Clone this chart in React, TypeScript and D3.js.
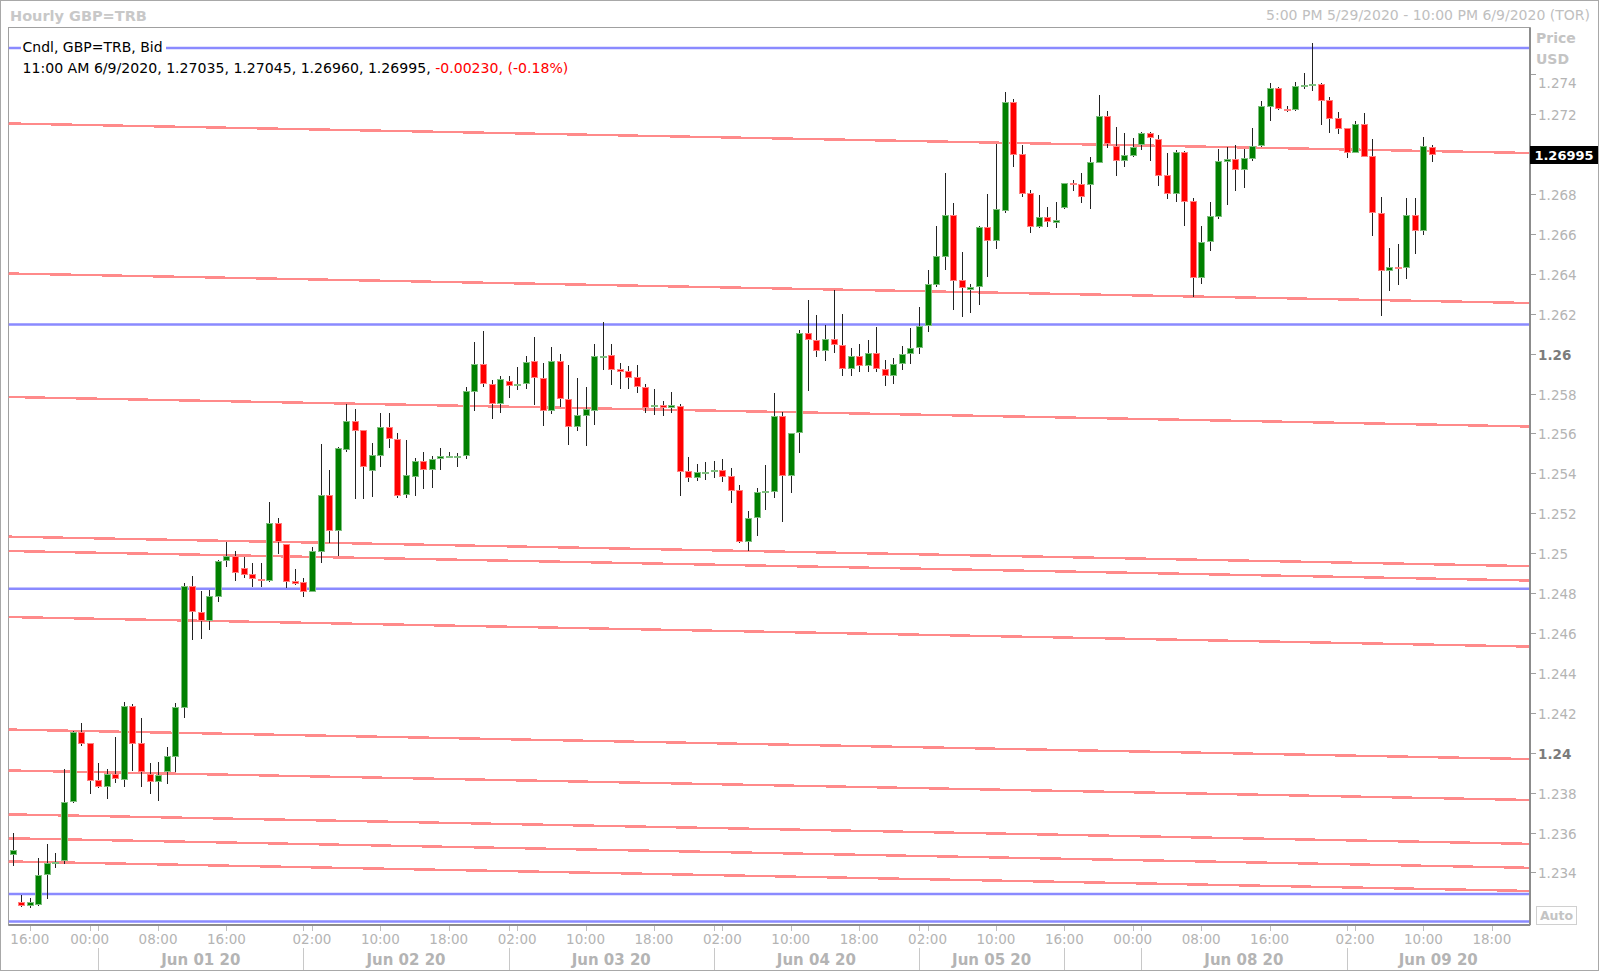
import React from "react";
import * as d3 from "d3";

// hourly candles, [open, high, low, close]
const ohlc: number[][] = [
  [1.23486, 1.23596, 1.23432, 1.23512],
  [1.23253, 1.23287, 1.23228, 1.23232],
  [1.23232, 1.23273, 1.23223, 1.23253],
  [1.23237, 1.23471, 1.23232, 1.23387],
  [1.23387, 1.23541, 1.23265, 1.23445],
  [1.23448, 1.23496, 1.2342, 1.23452],
  [1.23459, 1.23917, 1.23442, 1.23755],
  [1.23751, 1.24108, 1.23746, 1.24105],
  [1.24102, 1.24147, 1.24035, 1.24042],
  [1.24047, 1.24048, 1.23791, 1.23858],
  [1.23863, 1.23947, 1.23821, 1.23826],
  [1.23828, 1.23917, 1.23766, 1.23893],
  [1.23893, 1.2408, 1.2385, 1.23866],
  [1.23862, 1.24256, 1.23828, 1.24234],
  [1.24234, 1.24242, 1.2391, 1.24044],
  [1.24047, 1.24176, 1.23828, 1.23902],
  [1.23893, 1.23947, 1.23791, 1.23852],
  [1.23852, 1.23952, 1.23758, 1.23888],
  [1.23902, 1.2403, 1.23843, 1.23983],
  [1.2398, 1.24251, 1.23902, 1.24227],
  [1.24226, 1.24849, 1.24172, 1.24836],
  [1.24836, 1.24887, 1.24563, 1.24704],
  [1.24707, 1.2481, 1.24568, 1.24662],
  [1.2466, 1.24816, 1.24615, 1.24787],
  [1.24782, 1.24965, 1.24757, 1.24963],
  [1.24963, 1.25058, 1.24929, 1.24986],
  [1.24986, 1.25013, 1.24862, 1.24902],
  [1.24924, 1.24979, 1.24874, 1.24891],
  [1.24896, 1.24949, 1.24832, 1.24869],
  [1.24872, 1.24953, 1.2483, 1.24864],
  [1.24861, 1.25255, 1.24857, 1.25153],
  [1.25153, 1.25175, 1.24994, 1.25058],
  [1.25046, 1.25047, 1.24827, 1.24857],
  [1.24862, 1.24921, 1.24841, 1.24846],
  [1.24854, 1.24874, 1.24782, 1.24807],
  [1.24807, 1.25029, 1.24804, 1.25011],
  [1.25008, 1.25546, 1.24949, 1.25292],
  [1.25292, 1.25415, 1.25053, 1.25113],
  [1.25113, 1.25531, 1.24986, 1.25526],
  [1.25517, 1.25746, 1.25509, 1.25664],
  [1.25664, 1.25721, 1.2527, 1.25614],
  [1.25618, 1.25619, 1.2527, 1.25434],
  [1.25414, 1.25554, 1.25283, 1.25492],
  [1.25489, 1.25701, 1.25434, 1.25631],
  [1.25634, 1.25701, 1.25529, 1.25572],
  [1.25572, 1.25601, 1.25275, 1.25288],
  [1.25292, 1.25567, 1.25278, 1.25392],
  [1.25384, 1.25479, 1.25288, 1.25462],
  [1.25462, 1.25509, 1.25322, 1.25417],
  [1.25417, 1.25489, 1.25325, 1.25472],
  [1.25471, 1.25526, 1.25417, 1.25487],
  [1.25479, 1.25509, 1.25475, 1.25489],
  [1.25488, 1.25501, 1.2543, 1.25489],
  [1.25487, 1.25835, 1.25472, 1.25813],
  [1.25807, 1.2606, 1.25713, 1.25947],
  [1.25947, 1.26114, 1.25835, 1.25847],
  [1.2585, 1.25867, 1.25671, 1.25748],
  [1.25748, 1.25888, 1.25705, 1.25873],
  [1.25865, 1.25888, 1.25776, 1.25838],
  [1.25838, 1.25932, 1.25818, 1.2585],
  [1.2585, 1.25989, 1.25823, 1.2596],
  [1.25965, 1.26085, 1.25743, 1.25877],
  [1.2588, 1.25952, 1.25638, 1.25715],
  [1.25715, 1.26032, 1.25698, 1.25965],
  [1.25965, 1.25999, 1.25731, 1.25771],
  [1.25773, 1.25943, 1.25542, 1.25631],
  [1.25631, 1.2588, 1.25614, 1.25693],
  [1.25689, 1.25835, 1.25537, 1.25723],
  [1.25713, 1.26047, 1.25643, 1.25989],
  [1.2598, 1.26161, 1.25918, 1.25989],
  [1.25993, 1.26047, 1.25843, 1.25918],
  [1.25923, 1.25952, 1.25823, 1.2591],
  [1.25913, 1.25938, 1.25821, 1.2588],
  [1.25883, 1.25943, 1.25805, 1.25833],
  [1.25835, 1.25848, 1.25701, 1.2573],
  [1.25733, 1.25821, 1.25693, 1.25741],
  [1.25741, 1.25763, 1.25689, 1.25727],
  [1.25729, 1.25806, 1.25701, 1.25743],
  [1.25739, 1.25748, 1.25288, 1.25409],
  [1.25412, 1.25481, 1.25355, 1.25379],
  [1.25379, 1.25447, 1.25364, 1.25405],
  [1.25405, 1.25456, 1.25367, 1.25406],
  [1.25405, 1.2546, 1.25375, 1.25417],
  [1.25417, 1.25472, 1.25355, 1.25384],
  [1.25387, 1.25425, 1.2525, 1.25314],
  [1.25317, 1.25342, 1.25049, 1.25058],
  [1.25058, 1.25212, 1.25013, 1.25178],
  [1.25175, 1.25329, 1.25088, 1.25305],
  [1.25305, 1.25442, 1.25217, 1.25313],
  [1.25305, 1.25805, 1.25275, 1.25689],
  [1.25689, 1.2571, 1.25155, 1.25389],
  [1.25389, 1.25605, 1.253, 1.25604],
  [1.25601, 1.26119, 1.25501, 1.26106],
  [1.26106, 1.26269, 1.25813, 1.26069],
  [1.26069, 1.26194, 1.25985, 1.26015],
  [1.26015, 1.26144, 1.25965, 1.26074],
  [1.26074, 1.26319, 1.26005, 1.26045],
  [1.26045, 1.26197, 1.2589, 1.25925],
  [1.25925, 1.2603, 1.2589, 1.2599],
  [1.2599, 1.2605, 1.2591, 1.2594],
  [1.2594, 1.2607, 1.2591, 1.26005],
  [1.26005, 1.26132, 1.2591, 1.25925],
  [1.25925, 1.2597, 1.2584, 1.2589],
  [1.2589, 1.2598, 1.2585, 1.2595],
  [1.2595, 1.2604, 1.2592, 1.26],
  [1.26, 1.2613, 1.2595, 1.2603],
  [1.2603, 1.26236, 1.26, 1.2614],
  [1.2614, 1.2642, 1.2611, 1.26349],
  [1.26344, 1.26642, 1.26336, 1.2649],
  [1.26487, 1.26904, 1.2642, 1.26695],
  [1.26695, 1.26754, 1.26219, 1.26366],
  [1.26369, 1.26512, 1.26182, 1.26331],
  [1.26321, 1.26349, 1.26202, 1.26336],
  [1.26333, 1.26642, 1.26244, 1.26633],
  [1.26633, 1.26801, 1.26386, 1.26567],
  [1.26567, 1.2705, 1.26523, 1.26724],
  [1.26717, 1.27314, 1.26707, 1.27263],
  [1.27263, 1.27275, 1.26938, 1.26996],
  [1.27, 1.27046, 1.26787, 1.26801],
  [1.26807, 1.26821, 1.26607, 1.26637],
  [1.26637, 1.26796, 1.26628, 1.26684],
  [1.26683, 1.26734, 1.26637, 1.26659],
  [1.26657, 1.26759, 1.26629, 1.2667],
  [1.26729, 1.26858, 1.26723, 1.26857],
  [1.26857, 1.26871, 1.26815, 1.26849],
  [1.26851, 1.26904, 1.26754, 1.26787],
  [1.26846, 1.26988, 1.26724, 1.26963],
  [1.26958, 1.27297, 1.26954, 1.27192],
  [1.27192, 1.27217, 1.27029, 1.27051],
  [1.27041, 1.27135, 1.26892, 1.26968],
  [1.26968, 1.27105, 1.26934, 1.26996],
  [1.26991, 1.2708, 1.26984, 1.27035],
  [1.27046, 1.27113, 1.27021, 1.27105],
  [1.27105, 1.27113, 1.26968, 1.2708],
  [1.27076, 1.27096, 1.26841, 1.26892],
  [1.26896, 1.27004, 1.26774, 1.26801],
  [1.26801, 1.27021, 1.26759, 1.27013],
  [1.27013, 1.27018, 1.26642, 1.26759],
  [1.26766, 1.26782, 1.26286, 1.26378],
  [1.26378, 1.26642, 1.26349, 1.26562],
  [1.26559, 1.26762, 1.26517, 1.2669],
  [1.26687, 1.27024, 1.26674, 1.26966],
  [1.26963, 1.27038, 1.26745, 1.26976],
  [1.26976, 1.27046, 1.26816, 1.26921],
  [1.26921, 1.27024, 1.26829, 1.26979],
  [1.26976, 1.2713, 1.26966, 1.27041],
  [1.27041, 1.27268, 1.27035, 1.27243],
  [1.27238, 1.27359, 1.27168, 1.2733],
  [1.2733, 1.27339, 1.27222, 1.27227],
  [1.27225, 1.27243, 1.27213, 1.27217],
  [1.27222, 1.27364, 1.27217, 1.27344],
  [1.27344, 1.27409, 1.27327, 1.27346],
  [1.27342, 1.27556, 1.27317, 1.2735],
  [1.2735, 1.27359, 1.27146, 1.27268],
  [1.27272, 1.27288, 1.27108, 1.27175],
  [1.27179, 1.27213, 1.27101, 1.27126],
  [1.2713, 1.2713, 1.26983, 1.27008],
  [1.27008, 1.27166, 1.27005, 1.2715],
  [1.2715, 1.27205, 1.26984, 1.26988],
  [1.2699, 1.27075, 1.26592, 1.26707],
  [1.26704, 1.26784, 1.26191, 1.26416],
  [1.26416, 1.26528, 1.26314, 1.26436],
  [1.26436, 1.2655, 1.26344, 1.26426],
  [1.26431, 1.26779, 1.26373, 1.26695],
  [1.26695, 1.26779, 1.26498, 1.26617],
  [1.26617, 1.27085, 1.26595, 1.27041],
  [1.27035, 1.27045, 1.2696, 1.26995],
];

// sloping support / resistance lines, price at left and right edge of the plot
const trendStart = [1.27154, 1.26402, 1.25783, 1.25083, 1.25011, 1.2468, 1.24116, 1.23911, 1.23691, 1.23571, 1.23455];
const trendEnd = [1.27006, 1.26254, 1.25635, 1.24935, 1.24863, 1.24532, 1.23968, 1.23763, 1.23543, 1.23423, 1.23307];

// horizontal levels
const levels = [1.27532, 1.26146, 1.24822, 1.23292, 1.23154];

const yTicks = [1.234, 1.236, 1.238, 1.24, 1.242, 1.244, 1.246, 1.248, 1.25, 1.252, 1.254, 1.256, 1.258,
  1.26, 1.262, 1.264, 1.266, 1.268, 1.27, 1.272, 1.274];
const yMajor = [1.24, 1.26];

const xTickIdx = [2, 9, 17, 25, 35, 43, 51, 59, 67, 75, 83, 91, 99, 107, 115, 123, 131, 139, 147, 157, 165, 173];
const xTickLabels = ["16:00", "00:00", "08:00", "16:00", "02:00", "10:00", "18:00", "02:00", "10:00", "18:00",
  "02:00", "10:00", "18:00", "02:00", "10:00", "16:00", "00:00", "08:00", "16:00", "02:00", "10:00", "18:00"];
const dayBreaks = [10, 34, 58, 82, 106, 123, 132, 156];
const dayLabels = ["Jun 01 20", "Jun 02 20", "Jun 03 20", "Jun 04 20", "Jun 05 20", "", "Jun 08 20", "Jun 09 20"];

const font = "'DejaVu Sans', Verdana, sans-serif";
const gray = "#b4b4b4";

export default function App() {
  const W = 1600, H = 972;
  const left = 8.5, top = 27.5, right = 1530, bottom = 925;

  const x = d3.scaleLinear().domain([0, ohlc.length - 1]).range([12.7, 12.7 + 8.55 * (ohlc.length - 1)]);
  const y = d3.scaleLinear().domain([1.234, 1.274]).range([872.4, 74.4]);
  const last = ohlc[ohlc.length - 1];
  const tagY = Math.round(y(last[3]));

  const candles = ohlc.map((d, i) => {
    const [o, h, l, c] = d;
    const up = c >= o;
    const r = Math.round(x(i));
    const yt = Math.round(y(Math.max(o, c)));
    const yb = Math.round(y(Math.min(o, c)));
    const bh = Math.max(2, yb - yt);
    const solid = up ? "#008000" : "#ff0000";
    const soft = up ? "#7fbf7f" : "#ff8080";
    return (
      <g key={i}>
        <rect x={r} y={Math.round(y(h))} width={1} height={Math.max(1, Math.round(y(l)) - Math.round(y(h)))} fill="#222" />
        <rect x={r - 3} y={yt} width={7} height={bh} fill={soft} />
        {bh > 2 && <rect x={r - 2} y={yt + 1} width={5} height={bh - 2} fill={solid} />}
      </g>
    );
  });

  const dayEdges = [...dayBreaks.map((b) => x(b)), right];

  return (
    <svg width={W} height={H} style={{ position: "absolute", left: 0, top: 0, background: "#fff" }} fontFamily={font}>
      <rect x={0.5} y={0.5} width={1598} height={970} fill="#fff" stroke="#a8a8a8" />
      <text x={10} y={20.5} fontSize={14.5} fontWeight="bold" fill="#c8c8c8">Hourly GBP=TRB</text>
      <text x={1590} y={20} fontSize={14} fill="#c0c0c0" textAnchor="end">5:00 PM 5/29/2020 - 10:00 PM 6/9/2020 (TOR)</text>

      <defs>
        <clipPath id="plotclip">
          <rect x={left} y={top} width={right - left} height={bottom - top} />
        </clipPath>
      </defs>

      <rect x={left} y={top} width={right - left} height={bottom - top} fill="#fff" stroke="#a0a0a0" />

      <g clipPath="url(#plotclip)">
        {trendStart.map((p, k) => (
          <line key={"t" + k} x1={left} x2={right} y1={y(p)} y2={y(trendEnd[k])}
            stroke="#ff8a8a" strokeWidth={2.4} shapeRendering="crispEdges" />
        ))}
        {levels.map((p, k) => (
          <line key={"h" + k} x1={left} x2={right} y1={y(p)} y2={y(p)} stroke="#8a8aff" strokeWidth={2.6} />
        ))}
        {candles}
      </g>

      {/* legend */}
      <rect x={21} y={38} width={145} height={17} fill="#fff" />
      <text x={22.5} y={51.5} fontSize={14} fill="#000">Cndl, GBP=TRB, Bid</text>
      <text x={22.5} y={72.5} fontSize={14.1} fill="#000">
        11:00 AM 6/9/2020, {last[0].toFixed(5)}, {last[1].toFixed(5)}, {last[2].toFixed(5)}, {last[3].toFixed(5)},{" "}
        <tspan fill="#ff0000">-0.00230, (-0.18%)</tspan>
      </text>

      {/* right axis */}
      <line x1={right} x2={right} y1={top} y2={bottom} stroke="#8c8c8c" strokeWidth={2} />
      <line x1={left} x2={right} y1={bottom} y2={bottom} stroke="#8c8c8c" strokeWidth={2} />
      <text x={1536} y={43} fontSize={14} fontWeight="bold" fill="#c4c4c4">Price</text>
      <text x={1536} y={64} fontSize={14} fontWeight="bold" fill="#c4c4c4">USD</text>
      {yTicks.map((v, k) => {
        const major = yMajor.some((m) => Math.abs(m - v) < 1e-9);
        const yy = Math.round(y(v)) + 0.5;
        const ly = v > 1.273 ? yy + 8 : yy;
        const hidden = Math.abs(ly - tagY) < 14;
        return (
          <g key={"y" + k}>
            <line x1={right + 1} x2={right + 6} y1={yy} y2={yy} stroke="#a0a0a0" />
            {!hidden && (
              <text x={1538} y={ly + 5} fontSize={13.5} fontWeight={major ? "bold" : "normal"}
                fill={major ? "#7c7c7c" : gray}>{+v.toFixed(3)}</text>
            )}
          </g>
        );
      })}
      <rect x={right} y={tagY - 9} width={68} height={18} fill="#000" />
      <text x={right + 34} y={tagY + 5} fontSize={13} fontWeight="bold" fill="#fff" textAnchor="middle">
        {last[3].toFixed(5)}
      </text>
      <rect x={1536.5} y={906.5} width={40} height={18} fill="#fff" stroke="#d0d0d0" />
      <text x={1556.5} y={920} fontSize={12.5} fontWeight="bold" fill="#c4c4c4" textAnchor="middle">Auto</text>

      {/* time axis */}
      {xTickIdx.map((t, k) => (
        <g key={"x" + k}>
          <line x1={Math.round(x(t)) + 0.5} x2={Math.round(x(t)) + 0.5} y1={bottom + 1} y2={bottom + 6} stroke="#c0c0c0" />
          <text x={x(t)} y={944} fontSize={13.5} fill={gray} textAnchor="middle">{xTickLabels[k]}</text>
        </g>
      ))}
      {dayBreaks.map((b, k) => (
        <g key={"d" + k}>
          <line x1={Math.round(x(b)) + 0.5} x2={Math.round(x(b)) + 0.5} y1={bottom + 1} y2={bottom + 6} stroke="#c0c0c0" />
          <line x1={Math.round(x(b)) + 0.5} x2={Math.round(x(b)) + 0.5} y1={948} y2={970} stroke="#c8c8c8" />
          <text x={(dayEdges[k] + dayEdges[k + 1]) / 2} y={965} fontSize={15} fontWeight="bold" fill={gray}
            textAnchor="middle">{dayLabels[k]}</text>
        </g>
      ))}
    </svg>
  );
}
